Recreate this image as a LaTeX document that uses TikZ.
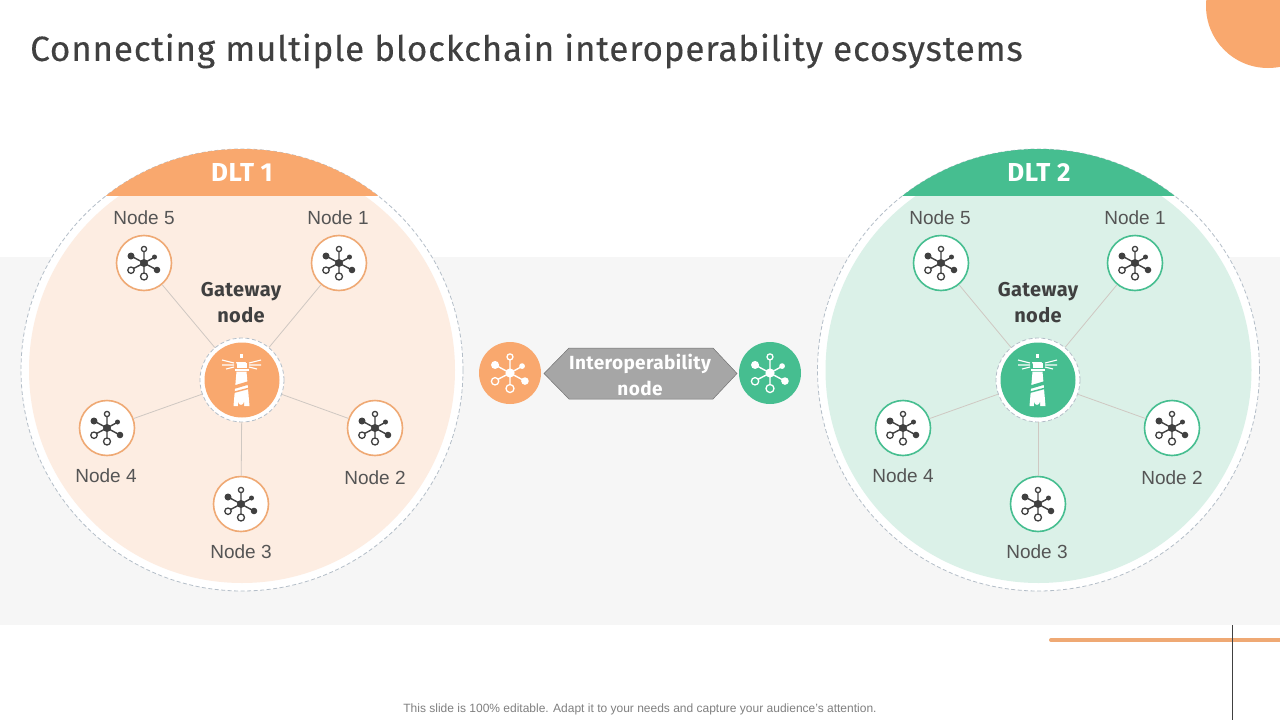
\documentclass[tikz,border=0pt]{standalone}
\usepackage{fontspec}
\setmainfont{Liberation Sans}
\newfontfamily\titlefont[LetterSpace=2.4,FakeBold=0.25]{Fira Sans}
\newfontfamily\headfont[LetterSpace=2]{Fira Sans}
\definecolor{orA}{HTML}{F9A86E}
\definecolor{orB}{HTML}{FDEDE2}
\definecolor{orC}{HTML}{EFA974}
\definecolor{grA}{HTML}{46BE90}
\definecolor{grB}{HTML}{DBF1E8}
\definecolor{band}{HTML}{F6F6F6}
\definecolor{ink}{HTML}{404040}
\definecolor{inkB}{HTML}{555555}
\definecolor{ringc}{HTML}{B4BEC8}
\definecolor{spoke}{HTML}{CFC8C2}
\definecolor{hexc}{HTML}{A6A6A6}
\tikzset{
  lab/.style={font=\fontsize{19}{22}\selectfont,text=inkB,inner sep=0pt},
  gwlab/.style={font=\headfont\bfseries\fontsize{20}{26}\selectfont,text=ink,inner sep=0pt,align=center},
  hxlab/.style={font=\headfont\bfseries\fontsize{19}{26}\selectfont,text=white,inner sep=0pt,align=center},
  head/.style={font=\headfont\bfseries\fontsize{26}{28}\selectfont,text=white,inner sep=0pt},
  leaf/.style={circle,draw=#1,fill=white,line width=1.6pt,minimum size=55pt,inner sep=0pt},
  gwring/.style={circle,draw=ringc,dash pattern=on 4pt off 2.5pt,fill=white,line width=.8pt,minimum size=84pt,inner sep=0pt},
  gwcore/.style={circle,fill=#1,minimum size=75pt,inner sep=0pt},
  link/.style={draw=spoke,line width=.8pt},
  badge/.style={circle,fill=#1,minimum size=62pt,inner sep=0pt},
  hexa/.style={fill=hexc,draw=gray!90!black,line width=.5pt},
  bigring/.style={draw=ringc,dash pattern=on 4pt off 2.5pt,line width=.8pt}
}
% icon: #1 node, #2 scale, #3 colour
\newcommand\neticon[3]{%
\begin{scope}[shift={(#1.center)},scale=#2]
  \draw[#3,line width=1.4pt] (0,0)--(0,-11.5) (0,0)--(0,10) (0,0)--(-12,-6.5) (0,0)--(10,-5.5) (0,0)--(-10.5,5.5) (0,0)--(12,6.5);
  \draw[#3,line width=1.3pt] (0,-14) circle (2.6) (0,13.5) circle (3.5) (-13,7.2) circle (3.2);
  \fill[#3] (0,0) circle (4) (-13,-7) circle (3.5) (10.5,-6) circle (2.5) (13,7) circle (3.3);
\end{scope}}
% lighthouse: #1 node, #2 background colour
\newcommand\lighthouse[2]{%
\begin{scope}[shift={(#1.center)}]
  % tower
  \fill[white] (-5.5,-8.5) -- (4.5,-8.5) -- (7.5,26) -- (-8.5,26) -- cycle;
  % gallery
  \fill[white] (-7.5,-11.5) rectangle (6.5,-9.5);
  % lantern and dome
  \fill[white] (-5.5,-12.5) rectangle (4.5,-17);
  \fill[white] (-6,-18) arc[start angle=180,end angle=0,radius=5] -- cycle;
  \fill[white] (-1.6,-26) rectangle (0.6,-22);
  % rays
  \draw[white,line width=1.1pt] (-8,-17)--(-20,-20) (-8,-15)--(-20,-15) (-8,-13)--(-16,-11)
    (7,-17)--(19,-20) (7,-15)--(19,-15) (7,-13)--(15,-11);
  % stripes
  \fill[#2] (-8,5.5) -- (7,1) -- (7,4.5) -- (-8,9) -- cycle;
  \fill[#2] (-8,11.5) -- (7,7.5) -- (7,9) -- (-8,13) -- cycle;
  % door
  \fill[#2] (-4,27) -- (-4,22) arc[start angle=180,end angle=0,radius=3] -- (2,27) -- cycle;
\end{scope}}
\begin{document}
\begin{tikzpicture}[x=1pt,y=-1pt]
\useasboundingbox (0,0) rectangle (1280,720);
\fill[white] (0,0) rectangle (1280,720);
\fill[band] (0,257) rectangle (1280,625);
\begin{scope}
  \clip (0,0) rectangle (1280,720);
  \fill[orA] (1268,6) circle (62);
\end{scope}
\node[anchor=west,inner sep=0pt,font=\titlefont\fontsize{35}{40}\selectfont,text=ink] (title) at (30,51) {Connecting multiple blockchain interoperability ecosystems};

% left ecosystem
\fill[white] (242,370) circle (221);
\draw[bigring] (242,370) circle (221);
\fill[orB] (242,370) circle (213);
\begin{scope}
  \clip (0,148) rectangle (1280,195);
  \fill[orA] (242,370) circle (221);
\end{scope}
\node[head] (h1) at (242,172) {DLT 1};
\node[gwring] (lg) at (242,380) {};
\node[gwcore=orA] (lgc) at (242,380) {};
\lighthouse{lgc}{orA}
\node[leaf=orC] (l5) at (144,263) {};
\node[leaf=orC] (l1) at (339,263) {};
\node[leaf=orC] (l2) at (375,428) {};
\node[leaf=orC] (l3) at (241,504) {};
\node[leaf=orC] (l4) at (107,428) {};
\foreach \n in {l1,l2,l3,l4,l5} {\draw[link] (lg) -- (\n); \neticon{\n}{1}{ink}}
\node[lab] (lt5) at (144,218) {Node 5};
\node[lab] (lt1) at (338,218) {Node 1};
\node[lab] (lt4) at (106,476) {Node 4};
\node[lab] (lt2) at (375,478) {Node 2};
\node[lab] (lt3) at (241,552) {Node 3};
\node[gwlab] (lgt) at (241,302.5) {Gateway\\node};

% right ecosystem
\fill[white] (1038.5,370) circle (221);
\draw[bigring] (1038.5,370) circle (221);
\fill[grB] (1038.5,370) circle (213);
\begin{scope}
  \clip (0,148) rectangle (1280,195);
  \fill[grA] (1038.5,370) circle (221);
\end{scope}
\node[head] (h2) at (1039,172) {DLT 2};
\node[gwring] (rg) at (1038,380) {};
\node[gwcore=grA] (rgc) at (1038,380) {};
\lighthouse{rgc}{grA}
\node[leaf=grA] (r5) at (941,263) {};
\node[leaf=grA] (r1) at (1135,263) {};
\node[leaf=grA] (r2) at (1172,428) {};
\node[leaf=grA] (r3) at (1038,504) {};
\node[leaf=grA] (r4) at (903,428) {};
\foreach \n in {r1,r2,r3,r4,r5} {\draw[link] (rg) -- (\n); \neticon{\n}{1}{ink}}
\node[lab] (rt5) at (940,218) {Node 5};
\node[lab] (rt1) at (1135,218) {Node 1};
\node[lab] (rt4) at (903,476) {Node 4};
\node[lab] (rt2) at (1172,478) {Node 2};
\node[lab] (rt3) at (1037,552) {Node 3};
\node[gwlab] (rgt) at (1038,302.5) {Gateway\\node};

% interoperability
\node[badge=orA] (bl) at (510,373) {};
\node[badge=grA] (br) at (770,373) {};
\neticon{bl}{1.15}{white}
\neticon{br}{1.15}{white}
\draw[hexa] (544,373.5) -- (569,348) -- (713,348) -- (737,373.5) -- (713,399) -- (569,399) -- cycle;
\node[hxlab] (hx) at (640,375) {Interoperability\\node};

% footer furniture
\draw[orC,line width=4pt,line cap=round] (1051,640) -- (1282,640);
\draw[ink,line width=1pt] (1232.5,625) -- (1232.5,720);
\node[inner sep=0pt,text=gray,font=\fontsize{12}{14}\selectfont] (foot) at (640,709) {This slide is 100\% editable. Adapt it to your needs and capture your audience's attention.};
\end{tikzpicture}
\end{document}
